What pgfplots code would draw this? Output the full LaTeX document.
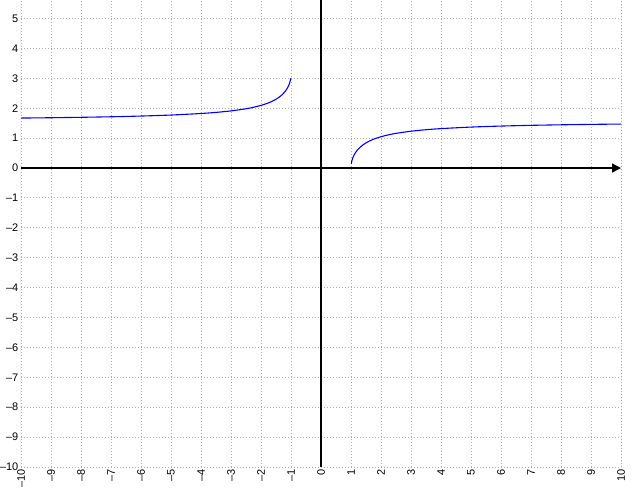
\documentclass[border=0pt]{standalone}
\usepackage{pgfplots}
\pgfplotsset{compat=1.18}
\usepackage{fontspec}
\setmainfont{Liberation Sans}
\usetikzlibrary{arrows.meta}
\begin{document}
\begin{tikzpicture}
\begin{axis}[name=ax, at={(0,0)}, anchor=south west,
  scale only axis, width=600bp, height=467bp,
  xmin=-10, xmax=10, ymin=-10, ymax=5.62,
  xtick={-10,...,10}, ytick={-10,...,5},
  xticklabels={–10,–9,–8,–7,–6,–5,–4,–3,–2,–1,0,1,2,3,4,5,6,7,8,9,10},
  yticklabels={–10,–9,–8,–7,–6,–5,–4,–3,–2,–1,0,1,2,3,4,5},
  major tick length=0pt,
  axis line style={draw=none},
  grid=major, grid style={black!32, line width=0.9bp, dash pattern=on 0.9bp off 2.1bp},
  tick label style={font=\fontsize{11}{13}\selectfont, text=black},
  xticklabel style={rotate=90, anchor=east, inner sep=2pt},
  yticklabel style={inner sep=1.5pt, xshift=-1bp},
  clip=true,
]
\addplot[blue, line width=1.1pt, smooth] coordinates {
(-10,1.6710) (-9,1.6821) (-8,1.6961) (-7,1.7142) (-6,1.7383) (-5,1.7722)
(-4,1.8235) (-3.5,1.8605) (-3,1.9106) (-2.5,1.9823) (-2.25,2.0313) (-2,2.0944)
(-1.9,2.1251) (-1.75,2.1790) (-1.6,2.2459) (-1.5,2.3005) (-1.4,2.3664)
(-1.3,2.4481) (-1.2,2.5559) (-1.15,2.6249) (-1.1,2.7119) (-1.07,2.7779)
(-1.05,2.8318) (-1.03,2.8997) (-1.02,2.9433) (-1.01,3.0008)
};
\addplot[blue, line width=1.1pt, smooth] coordinates {
(1.01,0.1408) (1.02,0.1983) (1.03,0.2419) (1.05,0.3098) (1.07,0.3637)
(1.1,0.4297) (1.15,0.5167) (1.2,0.5857) (1.3,0.6935) (1.4,0.7752)
(1.5,0.8411) (1.6,0.8957) (1.75,0.9626) (1.9,1.0165) (2,1.0472)
(2.25,1.1103) (2.5,1.1593) (3,1.2310) (3.5,1.2811) (4,1.3181)
(5,1.3694) (6,1.4033) (7,1.4274) (8,1.4455) (9,1.4595) (10,1.4706)
};
\draw[black!35, line width=1bp] (rel axis cs:0,1) -- (rel axis cs:0,0) -- (rel axis cs:1,0) -- (rel axis cs:1,1);
\draw[black, line width=1.3bp, -{Triangle[length=9bp,width=9bp]}] (axis cs:-10,0) -- (axis cs:10,0);
\draw[black, line width=1.3bp] (axis cs:0,-10) -- (axis cs:0,5.62);
\end{axis}
\pgfresetboundingbox
\path[use as bounding box] ([shift={(-21bp,-30bp)}]ax.south west) rectangle ([shift={(22bp,0bp)}]ax.north east);
\end{tikzpicture}
\end{document}
